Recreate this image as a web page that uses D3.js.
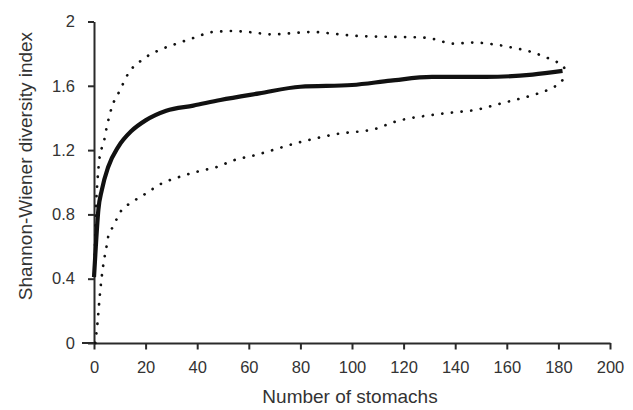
<!DOCTYPE html>
<html>
<head>
<meta charset="utf-8">
<script src="https://cdn.jsdelivr.net/npm/d3@7"></script>
<style>
  html, body { margin: 0; padding: 0; background: #fff; }
  svg { display: block; font-family: "Liberation Sans", Arial, sans-serif; }
</style>
</head>
<body>
<svg id="chart" width="633" height="410"></svg>
<script>
// ---- data ----
const xTicks = [0, 20, 40, 60, 80, 100, 120, 140, 160, 180, 200];
const yTicks = [0, 0.4, 0.8, 1.2, 1.6, 2];
const yTickLabels = ["0", "0.4", "0.8", "1.2", "1.6", "2"];

const meanX = [0, 0.7, 1.7, 3, 5.5, 9.4, 14.6, 20, 28, 38.5, 49, 64, 80, 100, 115, 131, 152, 170, 181.6];
const meanY = [0.41, 0.6, 0.83, 0.95, 1.095, 1.22, 1.32, 1.385, 1.445, 1.477, 1.512, 1.553, 1.594, 1.605, 1.632, 1.655, 1.655, 1.67, 1.693];

const upperX = [0.3, 0.8, 1.3, 1.8, 2.4, 3.6, 4.9, 6.9, 10, 13.3, 18.5, 25, 32, 39, 46, 54, 62, 69, 76, 85, 95, 102, 117, 128, 132, 139, 147, 154, 162, 169, 176, 179.3, 182, 183];
const upperY = [0.55, 0.85, 1.0, 1.1, 1.18, 1.235, 1.34, 1.466, 1.57, 1.677, 1.76, 1.82, 1.862, 1.9, 1.935, 1.941, 1.931, 1.92, 1.927, 1.935, 1.92, 1.91, 1.904, 1.9, 1.89, 1.862, 1.869, 1.86, 1.838, 1.813, 1.772, 1.749, 1.72, 1.667];

const lowerX = [0.5, 1, 1.5, 2, 2.7, 3.6, 4.9, 5.5, 7.1, 8.8, 10.5, 13.3, 16.5, 19.5, 26, 33, 41, 47.6, 54, 62, 80, 87, 94, 109, 116, 134, 149.6, 156, 163.6, 170.7, 177.4, 180.6, 183];
const lowerY = [0, 0.07, 0.15, 0.25, 0.37, 0.486, 0.604, 0.661, 0.717, 0.771, 0.822, 0.862, 0.895, 0.924, 0.99, 1.033, 1.07, 1.095, 1.136, 1.167, 1.25, 1.277, 1.3, 1.332, 1.373, 1.425, 1.456, 1.483, 1.514, 1.545, 1.586, 1.617, 1.667];

// ---- drawing ----
const svg = d3.select("#chart");
const x = d3.scaleLinear().domain([0, 200]).range([94, 610]);
const y = d3.scaleLinear().domain([0, 2]).range([343, 21.5]);
const ink = "#2a2a2a";
const textCol = "#333";

const line = d3.line().x(d => x(d[0])).y(d => y(d[1])).curve(d3.curveMonotoneX);
const zip = (a, b) => a.map((v, i) => [v, b[i]]);

// axes
const xAxis = svg.append("g")
  .attr("transform", `translate(0,${y(0)})`)
  .call(d3.axisBottom(x).tickValues(xTicks).tickFormat(d3.format("d")).tickSize(6.5).tickPadding(11.5).tickSizeOuter(0));
const yAxis = svg.append("g")
  .attr("transform", `translate(${x(0)},0)`)
  .call(d3.axisLeft(y).tickValues(yTicks).tickFormat((d, i) => yTickLabels[i]).tickSize(6).tickPadding(13).tickSizeOuter(0));

[xAxis, yAxis].forEach(g => {
  g.selectAll("path.domain").attr("stroke", ink).attr("stroke-width", 2);
  g.selectAll(".tick line").attr("stroke", ink).attr("stroke-width", 2);
  g.selectAll(".tick text").attr("fill", textCol).attr("font-size", 16.5)
    .attr("font-family", "'Liberation Sans', Arial, sans-serif");
});
// x axis line extends a little left of the y axis
svg.append("line")
  .attr("x1", 82).attr("x2", x(0)).attr("y1", y(0)).attr("y2", y(0))
  .attr("stroke", ink).attr("stroke-width", 2);

// curves
const dotted = { "stroke-dasharray": "0.1 9.6", "stroke-linecap": "round", "stroke-width": 2.7 };
[zip(upperX, upperY), zip(lowerX, lowerY)].forEach(data => {
  const p = svg.append("path").datum(data).attr("d", line).attr("fill", "none").attr("stroke", "#111");
  Object.entries(dotted).forEach(([k, v]) => p.attr(k, v));
});
svg.append("path").datum(zip(meanX, meanY)).attr("d", line)
  .attr("fill", "none").attr("stroke", "#111").attr("stroke-width", 4.2)
  .attr("stroke-linejoin", "round").attr("stroke-linecap", "butt");

// titles
svg.append("text").attr("x", 350).attr("y", 396).attr("dy", "0.35em")
  .attr("text-anchor", "middle").attr("font-size", 19).attr("fill", textCol)
  .text("Number of stomachs");
svg.append("text").attr("transform", "translate(25,166) rotate(-90)").attr("dy", "0.35em")
  .attr("text-anchor", "middle").attr("font-size", 19).attr("fill", textCol)
  .text("Shannon-Wiener diversity index");
</script>
</body>
</html>
